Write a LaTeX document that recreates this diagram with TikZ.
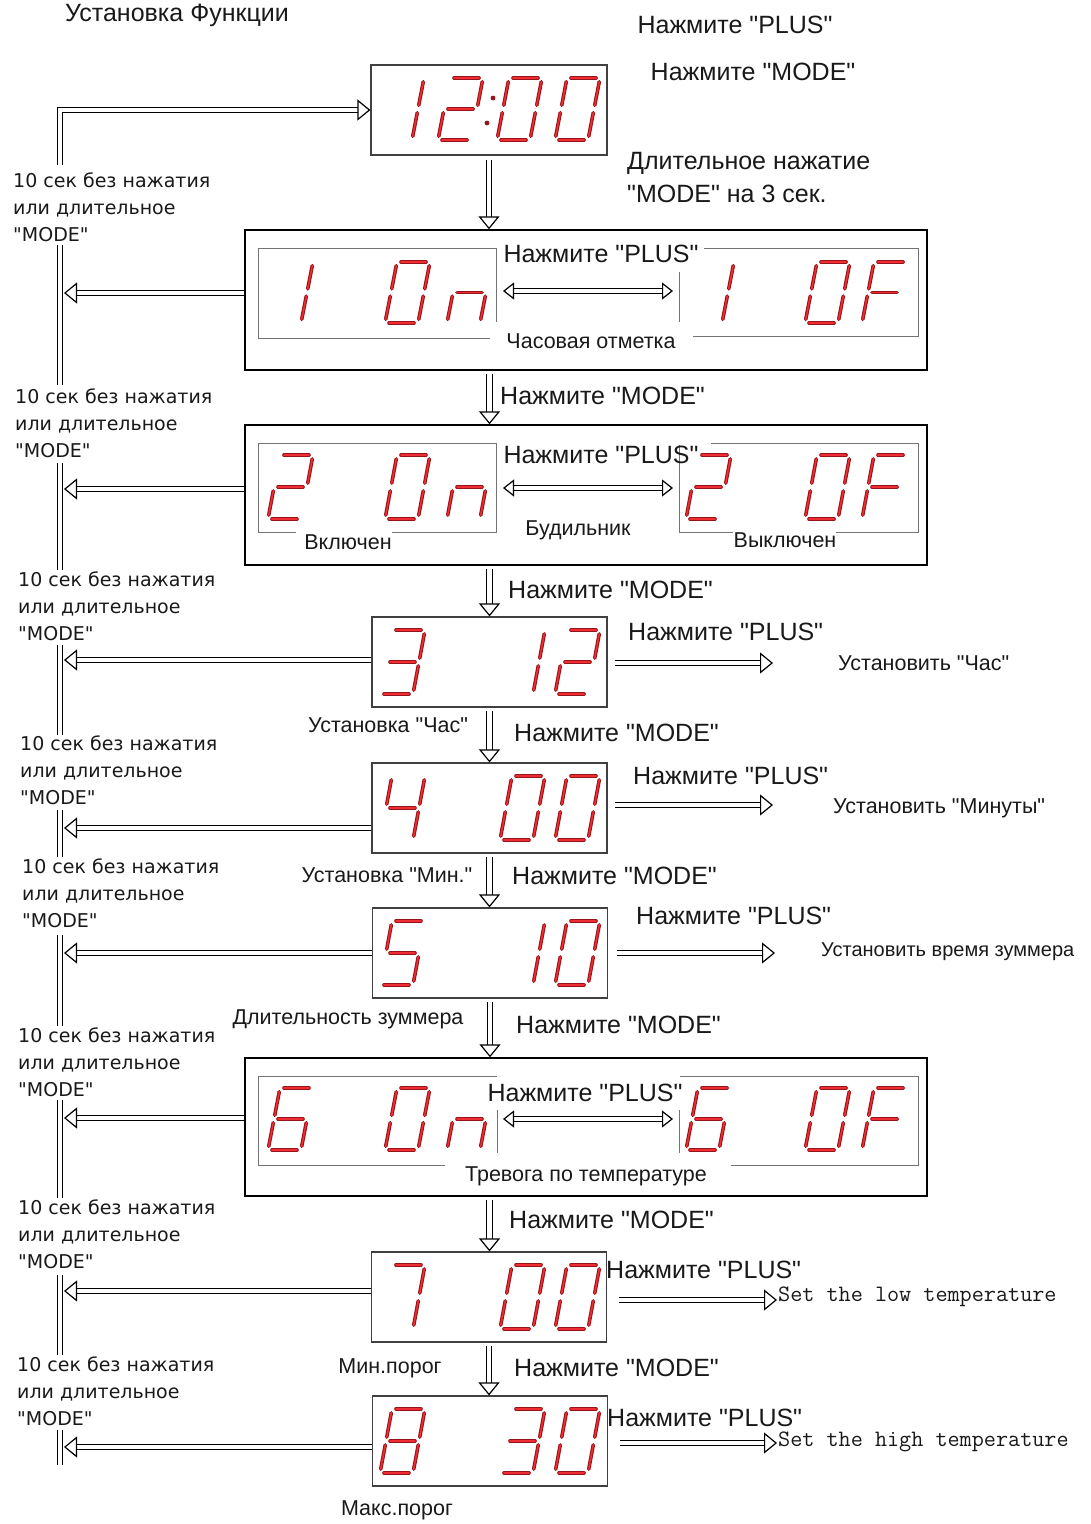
\documentclass[tikz,border=0pt]{standalone}
\usepackage{fontspec}
\newfontfamily\rusfont{Liberation Sans}
\newfontfamily\lblfont{DejaVu Sans}
\usetikzlibrary{arrows.meta}
\definecolor{segdark}{RGB}{150,20,25}
\definecolor{segred}{RGB}{240,45,50}
\definecolor{txt}{RGB}{25,25,25}
\def\segA{(0.12,1)--(0.88,1)}
\def\segB{(1,0.94)--(1,0.56)}
\def\segC{(1,0.44)--(1,0.06)}
\def\segD{(0.12,0)--(0.88,0)}
\def\segE{(0,0.44)--(0,0.06)}
\def\segF{(0,0.94)--(0,0.56)}
\def\segG{(0.12,0.5)--(0.88,0.5)}
\newcommand\SevenSeg[4]{%
  \begin{scope}[shift={(#1,#2)}, x={(33pt,0pt)}, y={(12pt,#3pt)}]
    \foreach \s in {#4}{%
      \expandafter\let\expandafter\dgcur\csname seg\s\endcsname
      \draw[segout] \dgcur; \draw[segin] \dgcur;}
  \end{scope}}
\begin{document}
\begin{tikzpicture}[x=1pt,y=-1pt,
  segout/.style={draw=segdark, line width=3.6pt, line cap=round},
  segin/.style={draw=segred, line width=1.5pt, line cap=round},
  dl/.style={draw=black, line width=1.2pt, double=white, double distance=4.2pt},
  hol/.tip={Triangle[open, fill=white, length=13pt, width=21pt, line width=1.2pt]},
  hols/.tip={Triangle[open, fill=white, length=11pt, width=17pt, line width=1.2pt]},
  harr/.style={dl, -hol},
  harr2/.style={dl, hols-hols},
  sbox/.style={draw=black!75, line width=1.2pt, minimum width=235pt, minimum height=90pt, inner sep=0pt},
  wbox/.style={draw=black, line width=1.4pt, minimum width=682pt, minimum height=140pt, inner sep=0pt},
  panel/.style={draw=black!55, line width=0.9pt},
  big/.style={font=\rusfont\fontsize{25}{30}\selectfont, text=txt, inner sep=0pt},
  mid/.style={font=\rusfont\fontsize{21.5}{26}\selectfont, text=txt, inner sep=0pt},
  mono/.style={font=\ttfamily\fontsize{23.5}{28}\selectfont, text=txt, inner sep=0pt},
  lbl/.style={font=\lblfont\fontsize{19}{27}\selectfont, text=txt, align=left, inner sep=0pt, anchor=north west}
]
\useasboundingbox (0,0) rectangle (1091,1524);

% ---------------- boxes
\node[sbox, minimum width=236pt] (b0) at (489,110) {};
\node[wbox] (b1) at (586,300) {};
\node[wbox] (b2) at (586,495) {};
\node[sbox] (b3) at (489.5,662) {};
\node[sbox] (b4) at (489.5,808) {};
\node[sbox] (b5) at (490,953) {};
\node[wbox, minimum height=138pt] (b6) at (586,1127) {};
\node[sbox] (b7) at (489,1297) {};
\node[sbox] (b8) at (490,1441) {};

% ---------------- inner panels of the wide boxes
\draw[panel] (490,338) -- (258,338) -- (258,248) -- (496,248) -- (496,322);
\draw[panel] (679,272) -- (679,322);
\draw[panel] (704,248) -- (918,248) -- (918,336) -- (693,336);
\draw[panel] (296,532) -- (258,532) -- (258,443) -- (496,443) -- (496,532) -- (392,532);
\draw[panel] (733,532) -- (679,532) -- (679,445);
\draw[panel] (711,443) -- (918,443) -- (918,532) -- (836,532);
\draw[panel] (445,1165) -- (258,1165) -- (258,1076) -- (497,1076);
\draw[panel] (497,1110) -- (497,1153);
\draw[panel] (679,1110) -- (679,1153);
\draw[panel] (680,1076) -- (918,1076) -- (918,1165) -- (731,1165);

% ---------------- seven segment digits
\SevenSeg{379}{140}{62}{B,C}
\SevenSeg{438}{140}{62}{A,B,G,E,D}
\fill[segdark] (493,98) circle (2.4pt);
\fill[segdark] (487,123) circle (2.4pt);
\SevenSeg{497}{140}{62}{A,B,C,D,E,F}
\SevenSeg{555}{140}{62}{A,B,C,D,E,F}
% box 1
\SevenSeg{268}{323}{61}{B,C}
\SevenSeg{385}{323}{61}{A,B,C,D,E,F}
\SevenSeg{447}{323}{61}{E,G,C}
\SevenSeg{689}{323}{61}{B,C}
\SevenSeg{805}{323}{61}{A,B,C,D,E,F}
\SevenSeg{862}{323}{61}{A,F,G,E}
% box 2
\SevenSeg{268}{519}{64}{A,B,G,E,D}
\SevenSeg{385}{519}{64}{A,B,C,D,E,F}
\SevenSeg{447}{519}{64}{E,G,C}
\SevenSeg{686}{519}{64}{A,B,G,E,D}
\SevenSeg{805}{519}{64}{A,B,C,D,E,F}
\SevenSeg{862}{519}{64}{A,F,G,E}
% box 3
\SevenSeg{380}{694}{64}{A,B,G,C,D}
\SevenSeg{500}{694}{64}{B,C}
\SevenSeg{555}{694}{64}{A,B,G,E,D}
% box 4
\SevenSeg{380}{840}{64}{F,G,B,C}
\SevenSeg{500}{840}{64}{A,B,C,D,E,F}
\SevenSeg{555}{840}{64}{A,B,C,D,E,F}
% box 5
\SevenSeg{380}{985}{64}{A,F,G,C,D}
\SevenSeg{500}{985}{64}{B,C}
\SevenSeg{555}{985}{64}{A,B,C,D,E,F}
% box 6
\SevenSeg{268}{1150}{62}{A,F,G,E,C,D}
\SevenSeg{385}{1150}{62}{A,B,C,D,E,F}
\SevenSeg{447}{1150}{62}{E,G,C}
\SevenSeg{686}{1150}{62}{A,F,G,E,C,D}
\SevenSeg{805}{1150}{62}{A,B,C,D,E,F}
\SevenSeg{862}{1150}{62}{A,F,G,E}
% box 7
\SevenSeg{380}{1329}{64}{A,B,C}
\SevenSeg{500}{1329}{64}{A,B,C,D,E,F}
\SevenSeg{555}{1329}{64}{A,B,C,D,E,F}
% box 8
\SevenSeg{380}{1473}{64}{A,B,C,D,E,F,G}
\SevenSeg{500}{1473}{64}{A,B,G,C,D}
\SevenSeg{555}{1473}{64}{A,B,C,D,E,F}

% ---------------- left return column
\draw[harr] (60,165) |- (b0.west);
\draw[dl] (60,245) -- (60,385);
\draw[dl] (60,463) -- (60,570);
\draw[dl] (60,645) -- (60,735);
\draw[dl] (60,810) -- (60,857);
\draw[dl] (60,935) -- (60,1026);
\draw[dl] (60,1100) -- (60,1198);
\draw[dl] (60,1275) -- (60,1355);
\draw[dl] (60,1430) -- (60,1465);

\coordinate (v1) at (64,293);
\coordinate (v2) at (64,489);
\coordinate (v3) at (64,660);
\coordinate (v4) at (64,828);
\coordinate (v5) at (64,953);
\coordinate (v6) at (64,1118);
\coordinate (v7) at (64,1291);
\coordinate (v8) at (64,1447);
\draw[harr] (b1.west |- v1) -- (v1);
\draw[harr] (b2.west |- v2) -- (v2);
\draw[harr] (b3.west |- v3) -- (v3);
\draw[harr] (b4.west |- v4) -- (v4);
\draw[harr] (b5.west |- v5) -- (v5);
\draw[harr] (b6.west |- v6) -- (v6);
\draw[harr] (b7.west |- v7) -- (v7);
\draw[harr] (b8.west |- v8) -- (v8);

\node[lbl] (l1) at (13,173) {10 сек без нажатия\\или длительное\\"MODE"};
\node[lbl] (l2) at (15,389) {10 сек без нажатия\\или длительное\\"MODE"};
\node[lbl] (l3) at (18,572) {10 сек без нажатия\\или длительное\\"MODE"};
\node[lbl] (l4) at (20,736) {10 сек без нажатия\\или длительное\\"MODE"};
\node[lbl] (l5) at (22,859) {10 сек без нажатия\\или длительное\\"MODE"};
\node[lbl] (l6) at (18,1028) {10 сек без нажатия\\или длительное\\"MODE"};
\node[lbl] (l7) at (18,1200) {10 сек без нажатия\\или длительное\\"MODE"};
\node[lbl] (l8) at (17,1357) {10 сек без нажатия\\или длительное\\"MODE"};

% ---------------- down arrows
\draw[harr] ([yshift=-4pt]b0.south) -- (b0.south |- b1.north);
\draw[harr] ([yshift=-3pt]b1.south -| b3.south) -- (b3.south |- b2.north);
\draw[harr] ([yshift=-3pt]b2.south -| b3.south) -- (b3.north);
\draw[harr] ([yshift=-3pt]b3.south) -- (b3.south |- b4.north);
\draw[harr] ([yshift=-3pt]b4.south) -- (b4.south |- b5.north);
\draw[harr] ([yshift=-3pt]b5.south) -- (b5.south |- b6.north);
\draw[harr] ([yshift=-3pt]b6.south -| b3.south) -- (b3.south |- b7.north);
\draw[harr] ([yshift=-3pt]b7.south) -- (b7.south |- b8.north);

% ---------------- PLUS toggles inside wide boxes
\coordinate (p1l) at (503,291); \coordinate (p1r) at (673,291);
\coordinate (p2l) at (503,488); \coordinate (p2r) at (673,488);
\coordinate (p6l) at (503,1119); \coordinate (p6r) at (673,1119);
\draw[harr2] (p1l) -- (p1r);
\draw[harr2] (p2l) -- (p2r);
\draw[harr2] (p6l) -- (p6r);

% ---------------- right arrows
\coordinate (e3) at (773,663);
\coordinate (e4) at (773,805);
\coordinate (e5) at (775,953);
\coordinate (e7) at (777,1300);
\coordinate (e8) at (777,1443);
\draw[harr] ([xshift=7pt]b3.east |- e3) -- (e3);
\draw[harr] ([xshift=7pt]b4.east |- e4) -- (e4);
\draw[harr] ([xshift=9pt]b5.east |- e5) -- (e5);
\draw[harr] ([xshift=12pt]b7.east |- e7) -- (e7);
\draw[harr] ([xshift=12pt]b8.east |- e8) -- (e8);

% ---------------- texts
\node[big, anchor=base west] (title) at (65,21) {Установка Функции};
\node[big] (tp) at (735,25) {Нажмите "PLUS"};
\node[big] (tm) at (753,72) {Нажмите "MODE"};
\node[big, anchor=west, align=left, font=\rusfont\fontsize{25}{33}\selectfont] (tl) at (627,178) {Длительное нажатие\\"MODE" на 3 сек.};

\node[big] (p1) at (601,254) {Нажмите "PLUS"};
\node[mid] (n1) at (591,341) {Часовая отметка};
\node[big, anchor=west] (m1) at (500,396) {Нажмите "MODE"};

\node[big] (p2) at (601,455) {Нажмите "PLUS"};
\node[mid] (n2) at (578,530) {Будильник};
\node[mid] (n2a) at (348,542) {Включен};
\node[mid] (n2b) at (785,540) {Выключен};
\node[big, anchor=west] (m2) at (508,590) {Нажмите "MODE"};

\node[big, anchor=west] (p3) at (628,632) {Нажмите "PLUS"};
\node[mid, anchor=west] (r3) at (838,663) {Установить "Час"};
\node[mid] (n3) at (388,725) {Установка "Час"};
\node[big, anchor=west] (m3) at (514,733) {Нажмите "MODE"};

\node[big, anchor=west] (p4) at (633,776) {Нажмите "PLUS"};
\node[mid, anchor=west] (r4) at (833,808) {Установить "Минуты"};
\node[mid] (n4) at (387,875) {Установка "Мин."};
\node[big, anchor=west] (m4) at (512,876) {Нажмите "MODE"};

\node[big, anchor=west] (p5) at (636,916) {Нажмите "PLUS"};
\node[mid, anchor=west, font=\rusfont\fontsize{20}{24}\selectfont] (r5) at (821,952) {Установить время зуммера};
\node[mid] (n5) at (348,1019) {Длительность зуммера};
\node[big, anchor=west] (m5) at (516,1025) {Нажмите "MODE"};

\node[big] (p6) at (585,1093) {Нажмите "PLUS"};
\node[mid] (n6) at (586,1176) {Тревога по температуре};
\node[big, anchor=west] (m6) at (509,1220) {Нажмите "MODE"};

\node[big, anchor=west] (p7) at (606,1270) {Нажмите "PLUS"};
\node[mono, anchor=west] (r7) at (778,1297) {Set the low temperature};
\node[mid] (n7) at (390,1368) {Мин.порог};
\node[big, anchor=west] (m7) at (514,1368) {Нажмите "MODE"};

\node[big, anchor=west] (p8) at (607,1418) {Нажмите "PLUS"};
\node[mono, anchor=west] (r8) at (778,1442) {Set the high temperature};
\node[mid] (n8) at (397,1510) {Макс.порог};
\end{tikzpicture}
\end{document}
